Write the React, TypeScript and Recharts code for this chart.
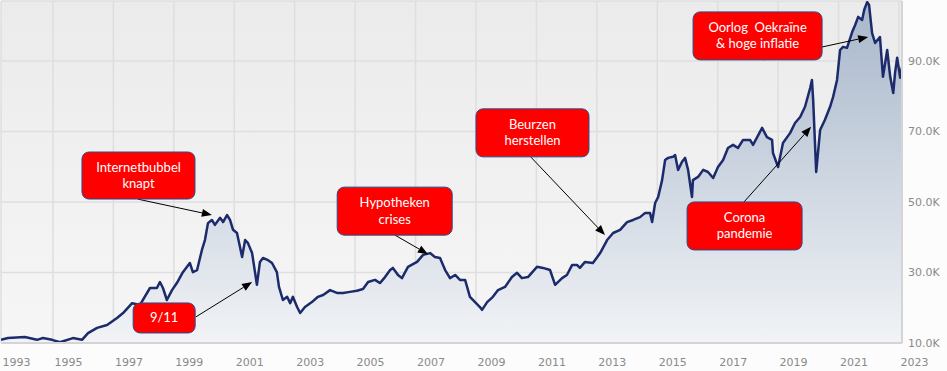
import React from 'react';
import {
  AreaChart,
  Area,
  XAxis,
  YAxis,
  CartesianGrid,
  ReferenceLine,
  ReferenceDot,
} from 'recharts';

// index level (decimal year, points)
const YEARS = [
  1993.28, 1993.51, 1994.07, 1994.47, 1994.67, 1994.97, 1995.23, 1995.66, 1995.96, 1996.16,
  1996.46, 1996.79, 1997.12, 1997.32, 1997.62, 1997.88, 1998.21, 1998.44, 1998.54, 1998.64,
  1998.77, 1998.94, 1999.1, 1999.3, 1999.53, 1999.63, 1999.77, 1999.93, 2000.03, 2000.13,
  2000.26, 2000.36, 2000.53, 2000.63, 2000.76, 2000.86, 2000.96, 2001.09, 2001.19, 2001.26,
  2001.36, 2001.45, 2001.59, 2001.69, 2001.75, 2001.85, 2001.95, 2002.12, 2002.25, 2002.41,
  2002.48, 2002.61, 2002.75, 2002.85, 2002.94, 2003.08, 2003.18, 2003.34, 2003.57, 2003.77,
  2003.94, 2004.17, 2004.4, 2004.6, 2004.83, 2005.06, 2005.26, 2005.43, 2005.66, 2005.82,
  2005.99, 2006.16, 2006.25, 2006.42, 2006.55, 2006.75, 2007.05, 2007.25, 2007.48, 2007.64,
  2007.81, 2007.98, 2008.14, 2008.31, 2008.47, 2008.64, 2008.8, 2008.97, 2009.13, 2009.2,
  2009.37, 2009.56, 2009.73, 2009.96, 2010.19, 2010.36, 2010.52, 2010.72, 2011.02, 2011.22,
  2011.45, 2011.62, 2011.85, 2012.01, 2012.18, 2012.35, 2012.44, 2012.61, 2012.87, 2013.11,
  2013.34, 2013.54, 2013.77, 2014.0, 2014.2, 2014.43, 2014.6, 2014.76, 2014.83, 2014.93,
  2015.03, 2015.16, 2015.26, 2015.36, 2015.52, 2015.59, 2015.69, 2015.82, 2015.92, 2016.02,
  2016.15, 2016.18, 2016.35, 2016.52, 2016.68, 2016.85, 2017.01, 2017.18, 2017.34, 2017.51,
  2017.67, 2017.84, 2018.07, 2018.17, 2018.47, 2018.63, 2018.8, 2018.83, 2019.0, 2019.16,
  2019.4, 2019.56, 2019.73, 2019.89, 2020.06, 2020.12, 2020.16, 2020.26, 2020.39, 2020.55,
  2020.72, 2020.82, 2020.95, 2021.05, 2021.15, 2021.28, 2021.45, 2021.55, 2021.65, 2021.78,
  2021.85, 2021.95, 2022.01, 2022.11, 2022.21, 2022.37, 2022.47, 2022.61, 2022.71, 2022.81,
  2022.87, 2022.94, 2023.04, 2023.1,
];

const VALUES = [
  10900, 11400, 11700, 10900, 11400, 10900, 10200, 11400, 10900, 12800,
  14300, 15100, 17100, 18500, 21300, 20800, 25600, 25600, 27300, 25600,
  22200, 25000, 27000, 30100, 32700, 30100, 30700, 36400, 39200, 44000,
  44900, 43500, 45500, 44300, 46300, 44900, 42100, 41200, 37200, 34400,
  39200, 38400, 35500, 29900, 26500, 33000, 34100, 33500, 32700, 30100,
  25900, 22200, 23100, 21300, 23100, 20200, 18500, 20200, 21600, 23100,
  23600, 25000, 24200, 24200, 24500, 24800, 25300, 27300, 27900, 27000,
  28700, 30700, 31300, 29300, 28400, 31600, 33000, 35000, 35500, 34400,
  34100, 30700, 28400, 29300, 27900, 27900, 23100, 21600, 20200, 19400,
  21600, 23100, 25000, 25900, 28700, 29900, 28400, 28700, 31600, 31300,
  30700, 26500, 28400, 29300, 32100, 32100, 31300, 33000, 32700, 35500,
  39200, 41200, 42100, 44300, 44900, 45700, 46900, 46900, 44300, 49700,
  51400, 56200, 61900, 62500, 62800, 63300, 59100, 61400, 62500, 59100,
  51400, 56200, 57100, 59100, 58500, 56800, 59900, 61900, 65300, 66200,
  65300, 67600, 67600, 66200, 71000, 68400, 67600, 63900, 59900, 66700,
  69600, 72400, 74100, 77000, 82300, 84600, 78900, 58500, 70400, 73300,
  77000, 79800, 84600, 93100, 94000, 93700, 98200, 100200, 102500, 101600,
  104500, 106700, 105900, 97900, 95100, 96800, 85500, 93100, 85500, 80900,
  86600, 90900, 85200, 88300,
];

const X_TICKS = [1995, 1997, 1999, 2001, 2003, 2005, 2007, 2009, 2011, 2013, 2015, 2017, 2019, 2021, 2023];
const Y_TICKS = [10000, 30000, 50000, 70000, 90000];
const Y_DOMAIN = [10000, 107000];

// annotations: text, box centre, arrow start, arrow tip (year, points)
const NOTE_TEXT = [
  ['Internetbubbel', 'knapt'],
  ['9/11'],
  ['Hypotheken', 'crises'],
  ['Beurzen', 'herstellen'],
  ['Corona', 'pandemie'],
  ['Oorlog  Oekraïne', '& hoge inflatie'],
];
const NOTE_BOX = [
  [1997.83, 57500],
  [1998.68, 17100],
  [2006.31, 47400],
  [2010.87, 69600],
  [2017.89, 43200],
  [2018.32, 97100],
];
const NOTE_FROM = [
  [1997.81, 50800],
  [1999.73, 17400],
  [2006.32, 40600],
  [2010.82, 62700],
  [2017.87, 50000],
  [2018.5, 90300],
];
const NOTE_TO = [
  [2000.26, 46300],
  [2001.59, 27300],
  [2007.41, 35200],
  [2013.27, 40600],
  [2020.09, 71300],
  [2021.98, 96800],
];

const BOX_SIZES = [
  [113, 47],
  [62, 30],
  [115, 48],
  [113, 48],
  [115, 48],
  [129, 48],
];

const data = YEARS.map((year, i) => ({ year, value: VALUES[i] }));
const xDomain = [YEARS[0], YEARS[YEARS.length - 1]];
const xTicks = [xDomain[0], ...X_TICKS];

const AXIS_FONT = 'DejaVu Sans, Verdana, sans-serif';

const XTick = ({ x, y, payload }: any) => (
  <text x={x + 1.5} y={y + 15} textAnchor="start" fill="#8a8a8a" fontSize={11} fontFamily={AXIS_FONT}>
    {Math.floor(payload.value)}
  </text>
);

const YTick = ({ x, y, payload }: any) => (
  <text x={x} y={y + 4} textAnchor="start" fill="#8a8a8a" fontSize={11} fontFamily={AXIS_FONT}>
    {(payload.value / 1000).toFixed(1)}K
  </text>
);

const Arrow = (props: any) => {
  const { x1, y1, x2, y2 } = props;
  const dx = x2 - x1;
  const dy = y2 - y1;
  const len = Math.sqrt(dx * dx + dy * dy) || 1;
  const ux = dx / len;
  const uy = dy / len;
  const hl = 10;
  const hw = 4;
  const bx = x2 - ux * hl;
  const by = y2 - uy * hl;
  return (
    <g>
      <line x1={x1} y1={y1} x2={bx} y2={by} stroke="#000" strokeWidth={1} />
      <polygon
        points={`${x2},${y2} ${bx - uy * hw},${by + ux * hw} ${bx + uy * hw},${by - ux * hw}`}
        fill="#000"
      />
    </g>
  );
};

const noteBox = (lines: string[], w: number, h: number) => (props: any) => {
  const { cx, cy } = props;
  const offsets = lines.length === 1 ? [4.5] : [-4, 12.5];
  return (
    <g>
      <rect
        x={cx - w / 2}
        y={cy - h / 2}
        width={w}
        height={h}
        rx={7}
        ry={7}
        fill="#ff0000"
        stroke="#2d4a86"
        strokeWidth={1}
      />
      {lines.map((line, i) => (
        <text
          key={i}
          x={cx}
          y={cy + offsets[i]}
          textAnchor="middle"
          fill="#fff"
          fontSize={13}
          fontFamily="Lato, sans-serif"
          style={{ whiteSpace: 'pre' }}
        >
          {line}
        </text>
      ))}
    </g>
  );
};

export default function App() {
  return (
    <div style={{ position: 'absolute', left: 0, top: 0, width: 947, height: 371, background: '#fcfcfc' }}>
      <AreaChart width={947} height={371} data={data} margin={{ top: 1, right: 0, left: 1, bottom: 0 }}>
        <defs>
          <linearGradient id="bgGrad" x1="0" y1="0" x2="0" y2="1">
            <stop offset="0%" stopColor="#ebebeb" />
            <stop offset="100%" stopColor="#f6f6f6" />
          </linearGradient>
          <linearGradient id="areaGrad" x1="0" y1="0" x2="0" y2="1">
            <stop offset="0%" stopColor="#a8b7cb" />
            <stop offset="100%" stopColor="#f1f3f6" />
          </linearGradient>
        </defs>
        <CartesianGrid stroke="#dedede" strokeWidth={1.5} fill="url(#bgGrad)" fillOpacity={1} />
        <XAxis
          dataKey="year"
          type="number"
          domain={xDomain}
          ticks={xTicks}
          interval={0}
          height={28}
          tickLine={false}
          tick={<XTick />}
          axisLine={{ stroke: '#d4d4d4', strokeWidth: 2 }}
          allowDataOverflow
        />
        <YAxis
          orientation="right"
          type="number"
          domain={Y_DOMAIN}
          ticks={Y_TICKS}
          interval={0}
          width={45}
          tickLine={false}
          tickSize={6}
          tickMargin={0}
          tick={<YTick />}
          axisLine={{ stroke: '#d4d4d4', strokeWidth: 2 }}
          allowDataOverflow
        />
        <Area
          type="linear"
          dataKey="value"
          stroke="#1c2b6b"
          strokeWidth={2.5}
          strokeLinejoin="round"
          fill="url(#areaGrad)"
          fillOpacity={1}
          isAnimationActive={false}
          dot={false}
          activeDot={false}
        />
        {NOTE_FROM.map((from, i) => (
          <ReferenceLine
            key={`arrow-${i}`}
            segment={[
              { x: from[0], y: from[1] },
              { x: NOTE_TO[i][0], y: NOTE_TO[i][1] },
            ]}
            ifOverflow="visible"
            shape={Arrow}
          />
        ))}
        {NOTE_BOX.map((pos, i) => (
          <ReferenceDot
            key={`note-${i}`}
            x={pos[0]}
            y={pos[1]}
            ifOverflow="visible"
            shape={noteBox(NOTE_TEXT[i], BOX_SIZES[i][0], BOX_SIZES[i][1])}
          />
        ))}
      </AreaChart>
    </div>
  );
}
